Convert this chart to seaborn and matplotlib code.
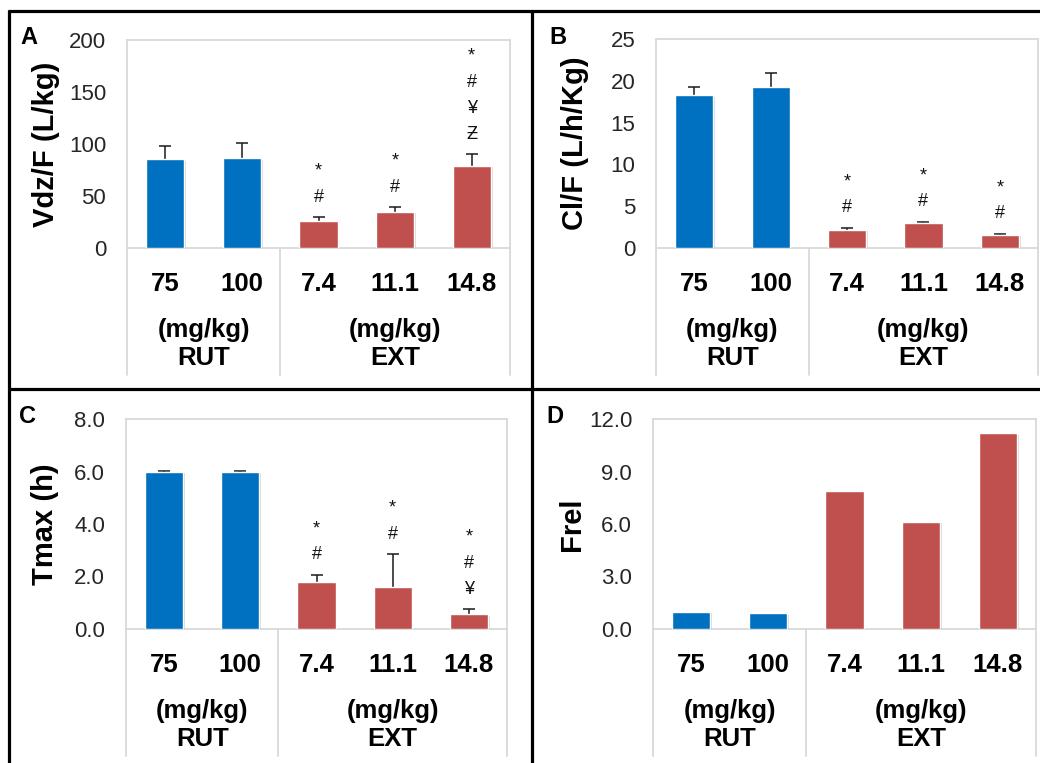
import matplotlib
matplotlib.use("Agg")
import matplotlib.pyplot as plt
import matplotlib.transforms as mtransforms
from matplotlib.lines import Line2D
from matplotlib import patheffects as pe
import numpy as np
import pandas as pd
import seaborn as sns

sns.set_theme(style="white")
plt.rcParams["font.family"] = ["Liberation Sans", "DejaVu Sans"]

# Doses and treatment groups
doses = ["75", "100", "7.4", "11.1", "14.8"]
groups = ["RUT", "RUT", "EXT", "EXT", "EXT"]
group_names = ["RUT", "EXT"]
group_centers = [0.5, 3.0]

# Apparent volume of distribution, Vdz/F (L/kg): mean and SD
vdz_mean = [85.3, 86.5, 26.3, 34.9, 79.1]
vdz_sd = [13.1, 14.5, 3.2, 4.5, 10.9]
vdz_marks = [[], [], ["*", "#"], ["*", "#"], ["*", "#", "¥", "Ƶ"]]

# Apparent clearance, Cl/F (L/h/kg): mean and SD
cl_mean = [18.3, 19.2, 2.2, 3.0, 1.6]
cl_sd = [1.0, 1.7, 0.25, 0.15, 0.1]
cl_marks = [[], [], ["*", "#"], ["*", "#"], ["*", "#"]]

# Time to peak concentration, Tmax (h): mean and SD
tmax_mean = [6.0, 6.0, 1.78, 1.59, 0.56]
tmax_sd = [0.03, 0.03, 0.28, 1.26, 0.19]
tmax_marks = [[], [], ["*", "#"], ["*", "#"], ["*", "#", "¥"]]

# Relative bioavailability
frel = [0.99, 0.91, 7.89, 6.13, 11.2]

palette = {"RUT": "#0070C0", "EXT": "#C0504D"}

W, H = 1040, 763
fig = plt.figure(figsize=(W / 100, H / 100), dpi=100)
PT = 0.72  # points per pixel at 100 dpi


def panel(letter, rect, mean, sd, marks, ylabel, yticks, fmt):
    left, top, right, bottom = rect
    w_px, h_px = right - left, bottom - top
    ax = fig.add_axes([left / W, 1 - bottom / H, w_px / W, h_px / H])
    df = pd.DataFrame({"dose": doses, "group": groups, "value": mean})
    sns.barplot(data=df, x="dose", y="value", hue="group", order=doses,
                palette=palette, dodge=False, width=0.5, saturation=1,
                errorbar=None, legend=False, ax=ax, zorder=2)
    for p in ax.patches:
        p.set_path_effects([pe.SimplePatchShadow(offset=(1.2, -1.2),
                                                 shadow_rgbFace="0.55", alpha=0.35),
                            pe.Normal()])
    x = np.arange(len(doses))
    if sd is not None:
        # upper-only error bars with a single cap at the top
        _, caps, _ = ax.errorbar(x, mean, yerr=[np.zeros(len(sd)), sd], fmt="none",
                                 ecolor="#1a1a1a", elinewidth=1.1, capsize=4.6,
                                 capthick=1.1, zorder=1.5)
        caps[0].set_visible(False)
        tops = np.asarray(mean) + np.asarray(sd)
        for i, sym in enumerate(marks):
            for k, s in enumerate(reversed(sym)):
                ax.annotate(s, xy=(i, tops[i]), xytext=(0, (20 + 26 * k) * PT),
                            textcoords="offset points", ha="center", va="center",
                            fontsize=13, color="#111111", annotation_clip=False)

    ax.set_xlim(-0.5, len(doses) - 0.5)
    ax.set_ylim(yticks[0], yticks[-1])
    ax.set_yticks(yticks)
    ax.set_yticklabels([fmt.format(t) for t in yticks])
    ax.set_xticks(x)
    ax.set_xticklabels(doses, fontweight="bold", fontsize=18.5)
    ax.set_xlabel("")
    ax.tick_params(axis="y", length=0, pad=15, labelsize=16, labelcolor="#262626")
    ax.tick_params(axis="x", length=0, pad=17, colors="black")
    for sp in ax.spines.values():
        sp.set_color("#D9D9D9")
        sp.set_linewidth(1.3)
        sp.set_zorder(1)
    ax.set_ylabel(ylabel, fontsize=21, fontweight="bold", color="black")
    ax.yaxis.set_label_coords(-67 / w_px, 0.5)

    # separators below the baseline
    tr = ax.get_xaxis_transform()
    for xs in (-0.5, 1.5, len(doses) - 0.5):
        ax.plot([xs, xs], [0, -127 / h_px], transform=tr, color="#D9D9D9",
                lw=1.3, clip_on=False)
    # group captions
    for name, cx in zip(group_names, group_centers):
        t1 = mtransforms.offset_copy(tr, fig=fig, y=-82 * PT, units="points")
        t2 = mtransforms.offset_copy(tr, fig=fig, y=-110 * PT, units="points")
        ax.text(cx, 0, "(mg/kg)", transform=t1, ha="center", va="center",
                fontsize=18.5, fontweight="bold", color="black")
        ax.text(cx, 0, name, transform=t2, ha="center", va="center",
                fontsize=18.5, fontweight="bold", color="black")

    fig.text((left - 98) / W, 1 - (top - 2) / H, letter, ha="center", va="center",
             fontsize=17, fontweight="bold", color="black")
    return ax


panel("A", (127, 40, 510, 248), vdz_mean, vdz_sd, vdz_marks,
      "Vdz/F (L/kg)", [0, 50, 100, 150, 200], "{:.0f}")
panel("B", (656, 39, 1038, 248), cl_mean, cl_sd, cl_marks,
      "Cl/F (L/h/Kg)", [0, 5, 10, 15, 20, 25], "{:.0f}")
panel("C", (126, 419, 507, 629), tmax_mean, tmax_sd, tmax_marks,
      "Tmax (h)", [0, 2, 4, 6, 8], "{:.1f}")
panel("D", (653, 419, 1036, 629), frel, None, None,
      "Frel", [0, 3, 6, 9, 12], "{:.1f}")

# panel frames
frame = [((8, 10.5), (1040, 10.5)), ((9, 10), (9, 763)),
         ((531.5, 10), (531.5, 763)), ((8, 389), (1040, 389))]
for (x0, y0), (x1, y1) in frame:
    fig.add_artist(Line2D([x0 / W, x1 / W], [1 - y0 / H, 1 - y1 / H],
                          transform=fig.transFigure, color="black", lw=2.3,
                          solid_capstyle="butt"))

fig.savefig("out.png", dpi=100, facecolor="white")
